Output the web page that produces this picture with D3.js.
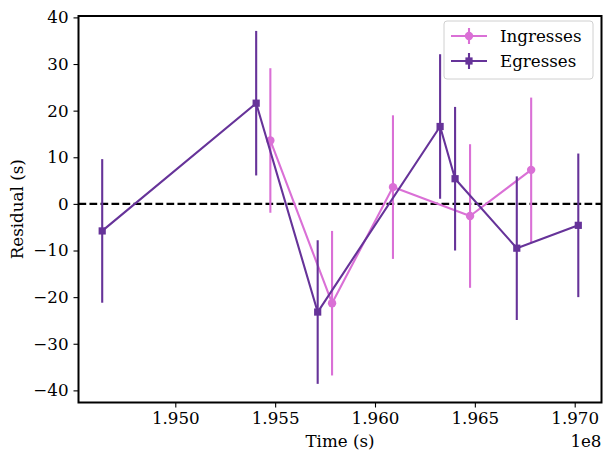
<!DOCTYPE html>
<html>
<head>
<meta charset="utf-8">
<script src="https://cdn.jsdelivr.net/npm/d3@7"></script>
<style>
  body { margin: 0; background: #fff; }
  svg { display: block; font-family: "DejaVu Serif", serif; }
</style>
</head>
<body>
<div id="chart"></div>
<script>
// residual data (x in units of 1e8 s)
const ingressTime = [1.95476, 1.95785, 1.96090, 1.96476, 1.96782];
const ingressResid = [13.6, -21.3, 3.6, -2.6, 7.3];
const ingressErr = [15.5, 15.5, 15.4, 15.4, 15.5];

const egressTime = [1.94634, 1.95405, 1.95713, 1.96326, 1.96401, 1.96710, 1.97018];
const egressResid = [-5.8, 21.6, -23.2, 16.6, 5.4, -9.5, -4.6];
const egressErr = [15.4, 15.5, 15.4, 15.5, 15.4, 15.4, 15.4];

const xTicks = [1.950, 1.955, 1.960, 1.965, 1.970];
const yTicks = [-40, -30, -20, -10, 0, 10, 20, 30, 40];

const width = 603, height = 453;
const plotL = 78.5, plotR = 601.5, plotT = 16, plotB = 402.5;
const fontSize = 16.7;

const series = [
  {name: 'Ingresses', color: '#DA70D6', marker: 'circle', t: ingressTime, r: ingressResid, e: ingressErr},
  {name: 'Egresses', color: '#663399', marker: 'square', t: egressTime, r: egressResid, e: egressErr}
];

const svg = d3.select('#chart')
  .append('svg')
  .attr('width', width)
  .attr('height', height);

const x = d3.scaleLinear().domain([1.945153, 1.971342]).range([plotL, plotR]);
const y = d3.scaleLinear().domain([-42.6, 40.3]).range([plotB, plotT]);

// dashed zero line
svg.append('line')
  .attr('x1', plotL).attr('x2', plotR)
  .attr('y1', y(0)).attr('y2', y(0))
  .attr('stroke', '#000')
  .attr('stroke-width', 2.1)
  .attr('stroke-dasharray', '7.7,3.3');

function drawMarker(g, type, cx, cy, color) {
  if (type === 'circle') {
    g.append('circle').attr('cx', cx).attr('cy', cy).attr('r', 4.2).attr('fill', color);
  } else {
    g.append('rect').attr('x', cx - 3.6).attr('y', cy - 3.6)
      .attr('width', 7.2).attr('height', 7.2).attr('fill', color);
  }
}

series.forEach(s => {
  const g = svg.append('g');
  const pts = s.t.map((t, i) => ({t, r: s.r[i], e: s.e[i]}));

  // error bars
  g.selectAll('line.err')
    .data(pts)
    .enter()
    .append('line')
    .attr('x1', d => x(d.t)).attr('x2', d => x(d.t))
    .attr('y1', d => y(d.r - d.e)).attr('y2', d => y(d.r + d.e))
    .attr('stroke', s.color)
    .attr('stroke-width', 2.1);

  const line = d3.line().x(d => x(d.t)).y(d => y(d.r));
  g.append('path')
    .attr('d', line(pts))
    .attr('fill', 'none')
    .attr('stroke', s.color)
    .attr('stroke-width', 2.1)
    .attr('stroke-linejoin', 'round');

  pts.forEach(d => drawMarker(g, s.marker, x(d.t), y(d.r), s.color));
});

// spines
svg.append('rect')
  .attr('x', plotL).attr('y', plotT)
  .attr('width', plotR - plotL).attr('height', plotB - plotT)
  .attr('fill', 'none')
  .attr('stroke', '#000')
  .attr('stroke-width', 2);

// axes
const xAxis = d3.axisBottom(x)
  .tickValues(xTicks)
  .tickFormat(d3.format('.3f'))
  .tickSizeOuter(0)
  .tickSize(5)
  .tickPadding(5);

const yAxis = d3.axisLeft(y)
  .tickValues(yTicks)
  .tickFormat(d => d < 0 ? '\u2212' + Math.abs(d) : d)
  .tickSizeOuter(0)
  .tickSize(5)
  .tickPadding(5);

const gx = svg.append('g').attr('transform', `translate(0,${plotB})`).call(xAxis);
const gy = svg.append('g').attr('transform', `translate(${plotL},0)`).call(yAxis);

[gx, gy].forEach(g => {
  g.select('.domain').remove();
  g.selectAll('.tick line').attr('stroke', '#000').attr('stroke-width', 1.1);
  g.selectAll('.tick text')
    .attr('fill', '#000')
    .style('font-family', '"DejaVu Serif", serif')
    .style('font-size', fontSize + 'px');
});

// axis labels
svg.append('text')
  .attr('x', (plotL + plotR) / 2)
  .attr('y', 447)
  .attr('text-anchor', 'middle')
  .style('font-size', fontSize + 'px')
  .text('Time (s)');

svg.append('text')
  .attr('x', plotR)
  .attr('y', 447)
  .attr('text-anchor', 'end')
  .style('font-size', fontSize + 'px')
  .text('1e8');

svg.append('text')
  .attr('transform', `translate(23,${(plotT + plotB) / 2}) rotate(-90)`)
  .attr('text-anchor', 'middle')
  .style('font-size', fontSize + 'px')
  .text('Residual (s)');

// legend
const legend = svg.append('g');
legend.append('rect')
  .attr('x', 444).attr('y', 21)
  .attr('width', 149).attr('height', 58)
  .attr('rx', 3)
  .attr('fill', 'rgba(255,255,255,0.8)')
  .attr('stroke', '#d0d0d0')
  .attr('stroke-width', 1);

series.forEach((s, i) => {
  const cy = 36 + i * 25;
  legend.append('line')
    .attr('x1', 451).attr('x2', 487)
    .attr('y1', cy).attr('y2', cy)
    .attr('stroke', s.color).attr('stroke-width', 2.1);
  legend.append('line')
    .attr('x1', 469).attr('x2', 469)
    .attr('y1', cy - 8).attr('y2', cy + 8)
    .attr('stroke', s.color).attr('stroke-width', 2.1);
  drawMarker(legend, s.marker, 469, cy, s.color);
  legend.append('text')
    .attr('x', 500)
    .attr('y', cy)
    .attr('dy', '0.35em')
    .style('font-size', fontSize + 'px')
    .text(s.name);
});
</script>
</body>
</html>
